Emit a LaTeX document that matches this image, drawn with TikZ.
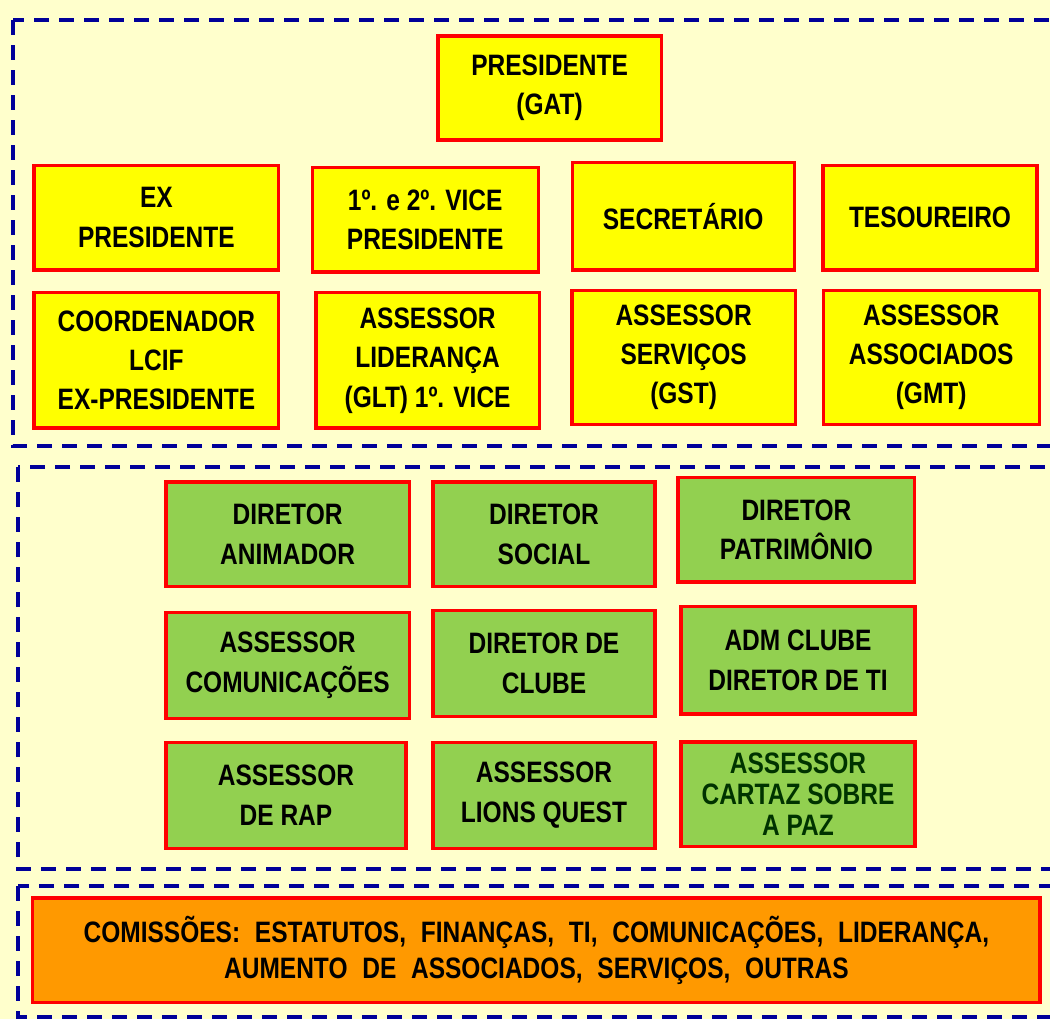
\documentclass[tikz,border=0pt]{standalone}
\usepackage{fontspec}
\newfontfamily\cargofont{Liberation Sans}[FakeStretch=0.83]
\definecolor{fundo}{HTML}{FFFFCC}
\definecolor{amarelo}{HTML}{FFFF00}
\definecolor{verde}{HTML}{92D050}
\definecolor{laranja}{HTML}{FF9900}
\definecolor{moldura}{HTML}{000099}
\definecolor{verdeescuro}{HTML}{003300}

\begin{document}
\begin{tikzpicture}[
	caixa/.style={draw=red, line width=2.2pt, inner sep=0pt, align=center,
		font=\cargofont\bfseries\fontsize{21}{28}\selectfont},
	ybox/.style={caixa, fill=amarelo},
	gbox/.style={caixa, fill=verde},
	obox/.style={caixa, fill=laranja},
	grupo/.style={draw=moldura, line width=2.8pt, dash pattern=on 0.375cm off 0.25cm}]
	\fill[fundo] (0,0) rectangle (26.25,-25.475);
	\clip (0,0) rectangle (26.25,-25.475);
	% moldura das tres partes
	\draw[grupo] (0.33,-0.5) rectangle (27,-11.15);
	\draw[grupo] (0.45,-11.68) rectangle (27,-21.72);
	\draw[grupo] (0.45,-22.15) rectangle (27,-25.42);
	% diretoria
	\node[ybox, minimum width=5.58cm, minimum height=2.6cm] (pres) at (13.74,-2.2) {PRESIDENTE\\(GAT)};
	\node[ybox, minimum width=6.12cm, minimum height=2.62cm] (expres) at (3.91,-5.44) {EX\\PRESIDENTE};
	\node[ybox, minimum width=5.65cm, minimum height=2.62cm] (vice) at (10.63,-5.49) {1º. e 2º. VICE\\PRESIDENTE};
	\node[ybox, minimum width=5.55cm, minimum height=2.68cm] (secr) at (17.08,-5.41) {SECRETÁRIO};
	\node[ybox, minimum width=5.35cm, minimum height=2.62cm] (tes) at (23.25,-5.44) {TESOUREIRO};
	\node[ybox, minimum width=6.12cm, minimum height=3.38cm] (coord) at (3.91,-9.01) {COORDENADOR\\LCIF\\EX-PRESIDENTE};
	\node[ybox, minimum width=5.58cm, minimum height=3.38cm] (lider) at (10.69,-9.01) {ASSESSOR\\LIDERANÇA\\(GLT) 1º. VICE};
	\node[ybox, minimum width=5.58cm, minimum height=3.35cm] (serv) at (17.09,-8.93) {ASSESSOR\\SERVIÇOS\\(GST)};
	\node[ybox, minimum width=5.4cm, minimum height=3.35cm] (assoc) at (23.28,-8.93) {ASSESSOR\\ASSOCIADOS\\(GMT)};
	% diretores e assessores
	\node[gbox, minimum width=6.08cm, minimum height=2.62cm] (anim) at (7.19,-13.36) {DIRETOR\\ANIMADOR};
	\node[gbox, minimum width=5.55cm, minimum height=2.62cm] (social) at (13.6,-13.36) {DIRETOR\\SOCIAL};
	\node[gbox, minimum width=5.92cm, minimum height=2.62cm] (patr) at (19.91,-13.24) {DIRETOR\\PATRIMÔNIO};
	\node[gbox, minimum width=6.08cm, minimum height=2.65cm] (comun) at (7.19,-16.63) {ASSESSOR\\COMUNICAÇÕES};
	\node[gbox, minimum width=5.55cm, minimum height=2.65cm] (clube) at (13.6,-16.58) {DIRETOR DE\\CLUBE};
	\node[gbox, minimum width=5.85cm, minimum height=2.68cm] (adm) at (19.95,-16.51) {ADM CLUBE\\DIRETOR DE TI};
	\node[gbox, minimum width=6cm, minimum height=2.65cm] (rap) at (7.15,-19.88) {ASSESSOR\\DE RAP};
	\node[gbox, minimum width=5.55cm, minimum height=2.65cm] (quest) at (13.6,-19.88) {ASSESSOR\\LIONS QUEST};
	\node[gbox, minimum width=5.85cm, minimum height=2.62cm, text=verdeescuro,
		font=\cargofont\bfseries\fontsize{21}{22}\selectfont] (cartaz) at (19.95,-19.86) {ASSESSOR\\CARTAZ SOBRE\\A PAZ};
	% comissoes
	\node[obox, minimum width=25.18cm, minimum height=2.62cm,
		font=\cargofont\bfseries\fontsize{21}{26}\selectfont,
		execute at begin node={\spaceskip=0.5em plus 0.1em}] (comis) at (13.41,-23.76)
		{COMISSÕES: ESTATUTOS, FINANÇAS, TI, COMUNICAÇÕES, LIDERANÇA,\\AUMENTO DE ASSOCIADOS, SERVIÇOS, OUTRAS};
\end{tikzpicture}
\end{document}
